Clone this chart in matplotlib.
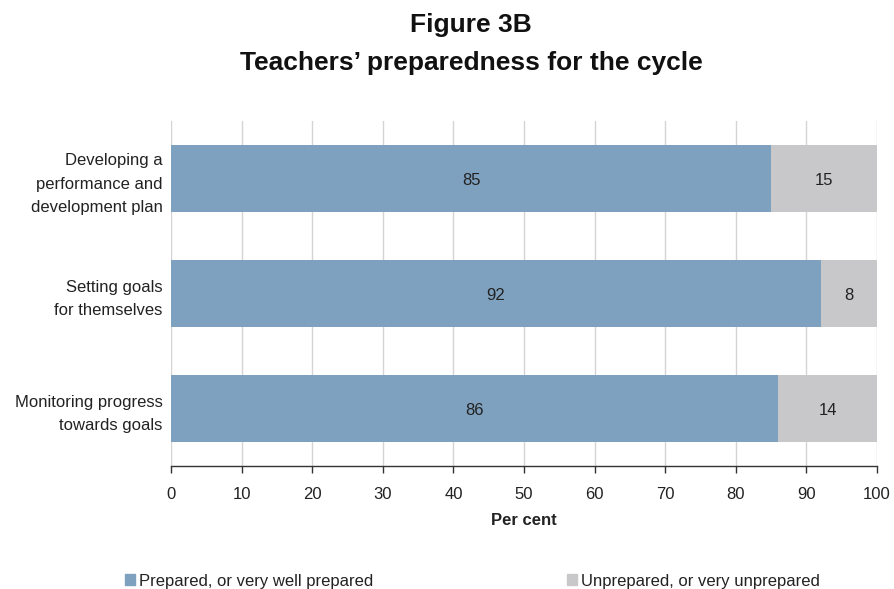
import matplotlib
matplotlib.use("Agg")
import matplotlib.pyplot as plt
import matplotlib.patches as mpatches

plt.rcParams['font.family'] = ['Liberation Sans', 'DejaVu Sans']

categories = ["Developing a\nperformance and\ndevelopment plan",
              "Setting goals\nfor themselves",
              "Monitoring progress\ntowards goals"]
prepared = [85, 92, 86]
unprepared = [15, 8, 14]
series_names = ["Prepared, or very well prepared", "Unprepared, or very unprepared"]
x_ticks = [0, 10, 20, 30, 40, 50, 60, 70, 80, 90, 100]

blue = "#7ea1bf"
grey = "#c8c8ca"
text_col = "#222222"

W, H = 894, 589
fig = plt.figure(figsize=(W / 100, H / 100), dpi=100)
ax = fig.add_axes([0.1913, 0.2088, 0.7897, 0.5858])

ypos = list(range(len(categories)))
h = 0.583
ax.barh(ypos, prepared, height=h, color=blue, zorder=2)
ax.barh(ypos, unprepared, left=prepared, height=h, color=grey, zorder=2)

for y, p, u in zip(ypos, prepared, unprepared):
    ax.text(p / 2, y + 0.02, f"{p}", ha="center", va="center", fontsize=12, color=text_col, zorder=3)
    ax.text(p + u / 2, y + 0.02, f"{u}", ha="center", va="center", fontsize=12, color=text_col, zorder=3)

ax.set_xlim(0, 100)
ax.set_ylim(2.5, -0.5)
ax.set_xticks(x_ticks)
ax.set_xticklabels([str(t) for t in x_ticks], fontsize=12, color=text_col)
ax.set_yticks(ypos)
ax.set_yticklabels(categories, fontsize=12, color=text_col, linespacing=1.7)
ax.tick_params(axis="y", length=0, pad=6)
ax.tick_params(axis="x", length=5, width=1, color="#333333", pad=10, direction="out")
ax.xaxis.grid(True, color="#d4d4d4", linewidth=1, zorder=0)
ax.set_axisbelow(True)
for s in ["top", "right", "left"]:
    ax.spines[s].set_visible(False)
ax.spines["bottom"].set_color("#333333")
ax.spines["bottom"].set_linewidth(1)

ax.set_xlabel("Per cent", fontsize=12, fontweight="bold", color=text_col, labelpad=8)

fig.text(0.527, 1 - 32 / H, "Figure 3B", ha="center", va="baseline", fontsize=19, fontweight="bold", color="#111111")
fig.text(0.527, 1 - 70 / H, "Teachers\u2019 preparedness for the cycle", ha="center", va="baseline",
         fontsize=19, fontweight="bold", color="#111111")

# legend entries placed along the bottom edge
fig.patches.append(mpatches.Rectangle((125 / W, 1 - 585 / H), 10 / W, 11 / H,
                                      transform=fig.transFigure, color=blue, figure=fig))
fig.text(139 / W, 1 - 586 / H, series_names[0], ha="left", va="baseline", fontsize=12, color=text_col)
fig.patches.append(mpatches.Rectangle((567 / W, 1 - 585 / H), 10 / W, 11 / H,
                                      transform=fig.transFigure, color=grey, figure=fig))
fig.text(581 / W, 1 - 586 / H, series_names[1], ha="left", va="baseline", fontsize=12, color=text_col)

fig.savefig("out.png", dpi=100)
